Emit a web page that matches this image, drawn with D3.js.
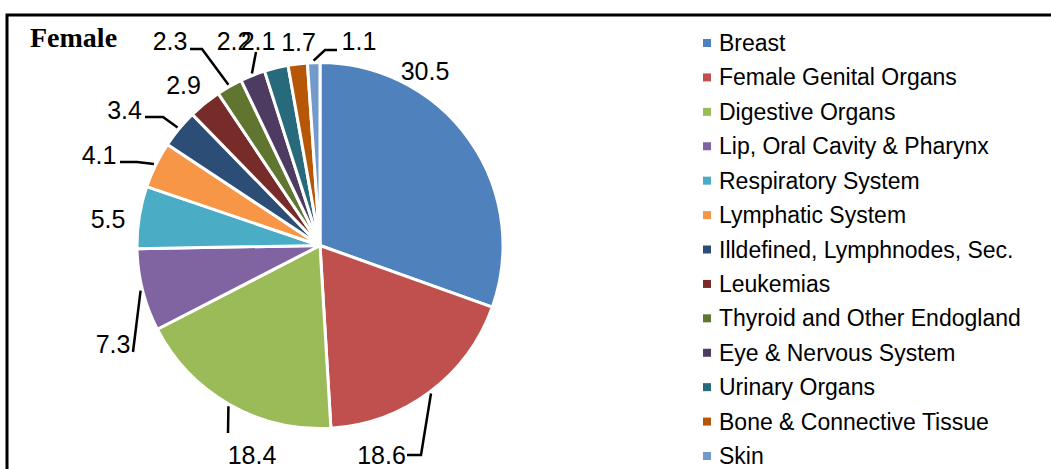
<!DOCTYPE html>
<html>
<head>
<meta charset="utf-8">
<script src="https://cdn.jsdelivr.net/npm/d3@7"></script>
<style>
  body { margin: 0; background: #fff; }
  svg { display: block; }
  .lbl { font-family: "Liberation Sans", Arial, sans-serif; font-size: 25px; fill: #000; }
  .leg { font-family: "Liberation Sans", Arial, sans-serif; font-size: 23px; fill: #000; }
</style>
</head>
<body>
<div id="chart"></div>
<script>
// data
var categories = ["Breast", "Female Genital Organs", "Digestive Organs", "Lip, Oral Cavity & Pharynx",
  "Respiratory System", "Lymphatic System", "Illdefined, Lymphnodes, Sec.", "Leukemias",
  "Thyroid and Other Endogland", "Eye & Nervous System", "Urinary Organs",
  "Bone & Connective Tissue", "Skin"];
var values = [30.5, 18.6, 18.4, 7.3, 5.5, 4.1, 3.4, 2.9, 2.3, 2.2, 2.1, 1.7, 1.1];
var colors = ["#4f81bd", "#c0504d", "#9bbb59", "#8064a2", "#4bacc6", "#f79646", "#2c4d75",
  "#772c2a", "#5f7530", "#4d3b62", "#276a7c", "#b65708", "#729aca"];

var W = 1051, H = 469;
var cx = 320, cy = 245.5, R = 183;

// where excel dropped each value label (offset from pie centre)
var labelAt = [[105,-174.5],[61.5,209.5],[-68,209.5],[-207,98.5],[-212,-26.5],[-221,-90.5],
  [-195.5,-136],[-136.5,-160.5],[-150,-204.5],[-86,-204.5],[-62,-204.5],[-21.5,-204],[39,-204.5]];
// leader lines: [end, elbow] relative to label centre, null = no leader
var leaders = [null, [[25.5,0],[39.5,0]], [[-24,-22],null], [[20,8],null], null,
  [[21,7],[38,7]], [[20.5,7.5],[38.5,7.5]], null, [[20,8],[32,8]], [[22,11],null],
  null, null, [[-22,9],[-34,9]]];

var svg = d3.select("#chart").append("svg")
  .attr("width", W).attr("height", H);

/* frame */
svg.append("rect")
  .attr("x", 7).attr("y", 15)
  .attr("width", W + 20).attr("height", H + 20)
  .attr("fill", "none").attr("stroke", "#000").attr("stroke-width", 3);

svg.append("text")
  .attr("x", 30).attr("y", 47)
  .style("font-family", "'Liberation Serif', 'Times New Roman', serif")
  .style("font-weight", "bold").style("font-size", "28px")
  .text("Female");

var pie = d3.pie().sort(null).value(function(d){ return d; });
var arcs = pie(values);
var arc = d3.arc().innerRadius(0).outerRadius(R);
var edge = d3.arc().innerRadius(R + 2).outerRadius(R + 2);

var g = svg.append("g").attr("transform", "translate(" + cx + "," + cy + ")");

g.selectAll("path.slice")
  .data(arcs)
  .enter()
  .append("path")
  .attr("class", "slice")
  .attr("d", arc)
  .attr("fill", function(d, i){ return colors[i]; })
  .attr("stroke", "#fff")
  .attr("stroke-width", 3)
  .attr("stroke-linejoin", "round");

/* leader lines */
g.selectAll("polyline.lead")
  .data(arcs.filter(function(d, i){ return leaders[i]; }))
  .enter()
  .append("polyline")
  .attr("class", "lead")
  .attr("points", function(d){
    var i = d.index, L = leaders[i], p = labelAt[i];
    var pts = [edge.centroid(d)];
    if (L[1]) pts.push([p[0] + L[1][0], p[1] + L[1][1]]);
    pts.push([p[0] + L[0][0], p[1] + L[0][1]]);
    return pts.map(function(q){ return q.join(","); }).join(" ");
  })
  .attr("fill", "none").attr("stroke", "#000").attr("stroke-width", 2.5);

/* value labels */
g.selectAll("text.lbl")
  .data(arcs)
  .enter()
  .append("text")
  .attr("class", "lbl")
  .attr("x", function(d){ return labelAt[d.index][0]; })
  .attr("y", function(d){ return labelAt[d.index][1]; })
  .attr("text-anchor", "middle")
  .attr("dominant-baseline", "central")
  .text(function(d){ return d.data.toFixed(1); });

/* legend */
var legY = d3.scalePoint().domain(categories).range([43, 456]);
var leg = svg.selectAll("g.legitem")
  .data(categories)
  .enter()
  .append("g")
  .attr("class", "legitem")
  .attr("transform", function(d){ return "translate(703," + legY(d) + ")"; });

leg.append("rect")
  .attr("x", 0).attr("y", -4).attr("width", 8).attr("height", 8)
  .attr("fill", function(d, i){ return colors[i]; });

leg.append("text")
  .attr("class", "leg")
  .attr("x", 16).attr("y", 0)
  .attr("dominant-baseline", "central")
  .text(function(d){ return d; });
</script>
</body>
</html>
